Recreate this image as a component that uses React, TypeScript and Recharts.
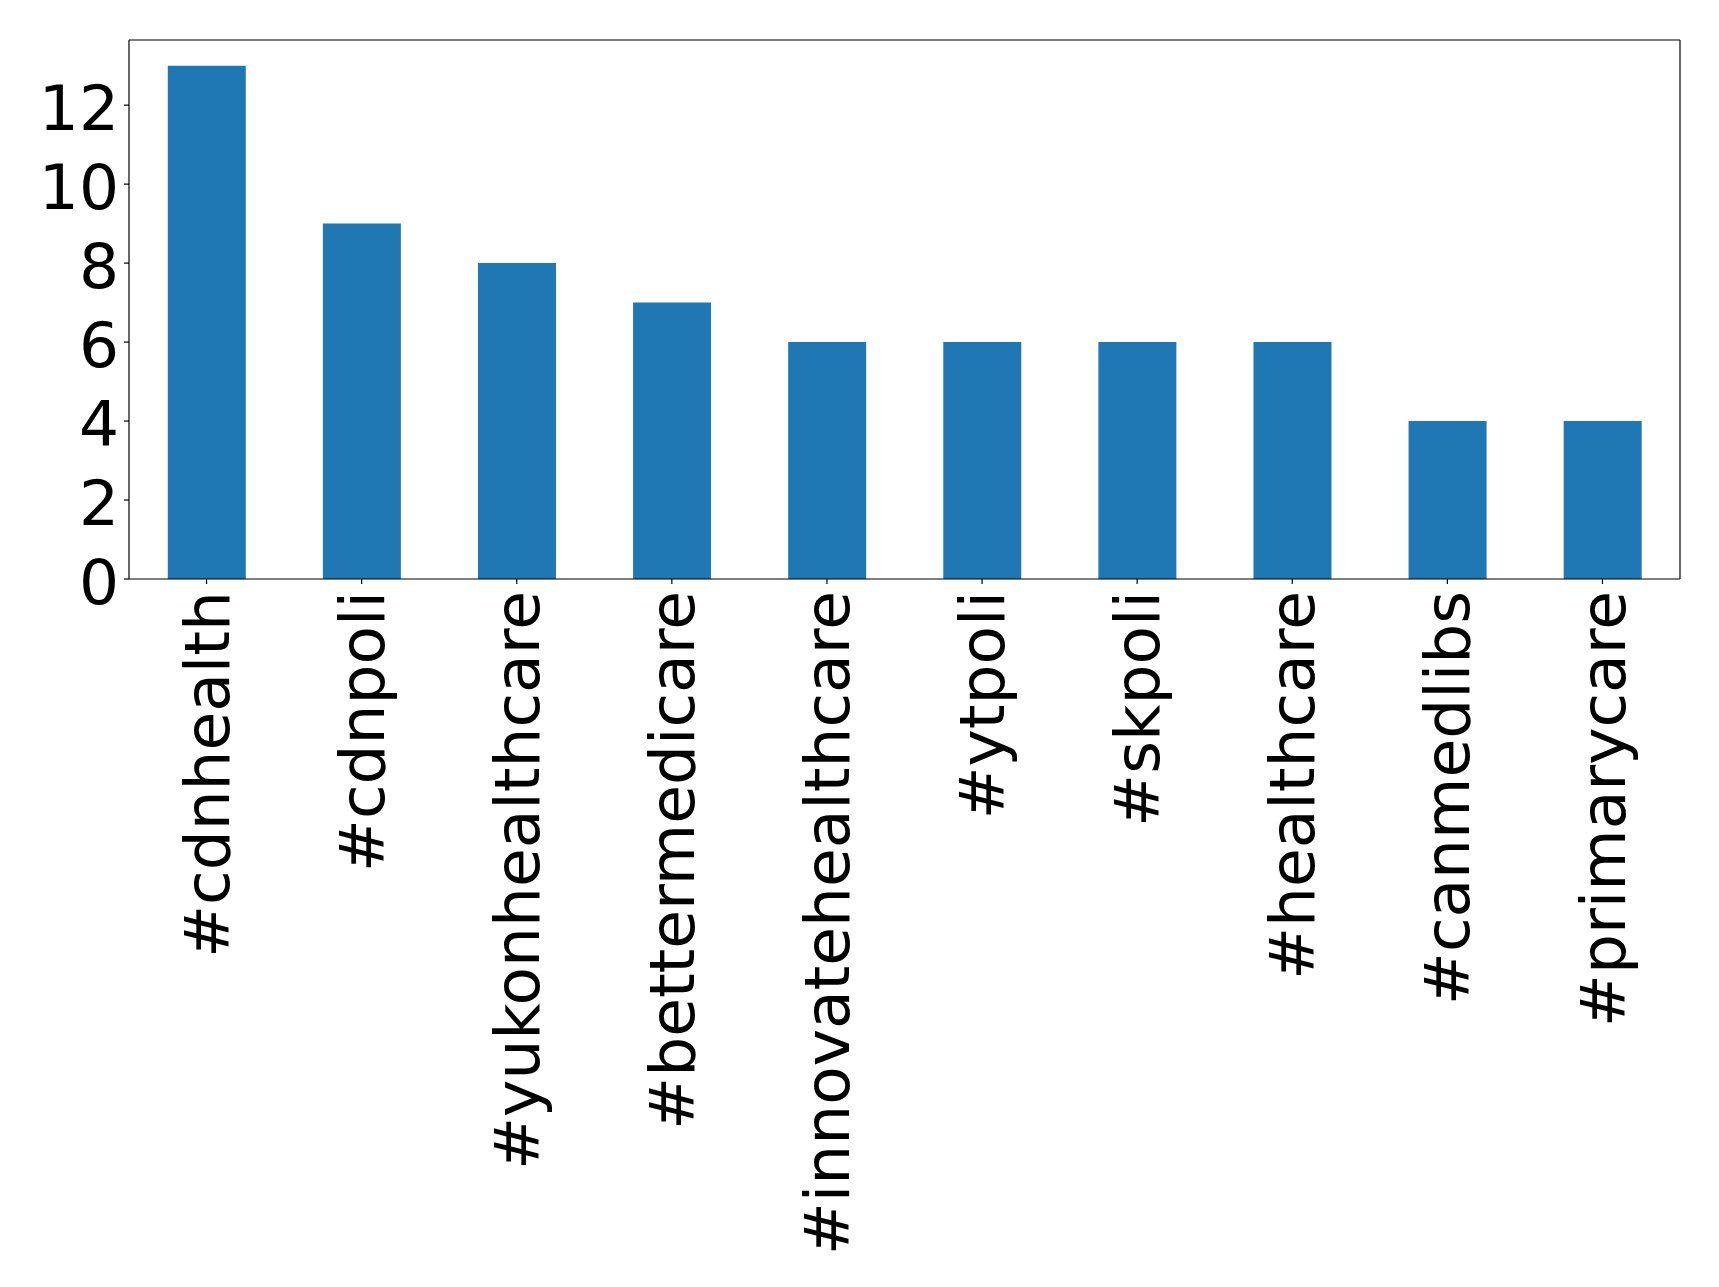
import { BarChart, Bar, XAxis, YAxis } from "recharts";

// ── Data ─────────────────────────────────────────────────────────────

const hashtags = [
  "#cdnhealth",
  "#cdnpoli",
  "#yukonhealthcare",
  "#bettermedicare",
  "#innovatehealthcare",
  "#ytpoli",
  "#skpoli",
  "#healthcare",
  "#canmedlibs",
  "#primarycare",
];

const counts = [13, 9, 8, 7, 6, 6, 6, 6, 4, 4];

const yTicks = [0, 2, 4, 6, 8, 10, 12];

const data = hashtags.map((tag, i) => ({ tag, count: counts[i] }));

// ── Style ────────────────────────────────────────────────────────────

const FONT = "'DejaVu Sans', Verdana, sans-serif";
const FONT_SIZE = 63;
const BAR_COLOR = "#1f77b4";
const AXIS = { stroke: "#000000", strokeWidth: 1.2 };

function XTick({ x, y, payload }: any) {
  return (
    <text
      transform={`translate(${x},${y + 2}) rotate(-90)`}
      textAnchor="end"
      dy="0.35em"
      fontFamily={FONT}
      fontSize={FONT_SIZE}
      fill="#000000"
    >
      {payload.value}
    </text>
  );
}

function YTick({ x, y, payload }: any) {
  return (
    <text
      x={x}
      y={y}
      textAnchor="end"
      dy="0.40em"
      fontFamily={FONT}
      fontSize={FONT_SIZE}
      fill="#000000"
    >
      {payload.value}
    </text>
  );
}

// ── Component ────────────────────────────────────────────────────────

export default function App() {
  return (
    <div style={{ position: "absolute", left: 0, top: 0, background: "#fff" }}>
      <BarChart
        width={1719}
        height={1287}
        data={data}
        margin={{ top: 39, right: 38, left: 0, bottom: 0 }}
        barCategoryGap="25%"
      >
        <XAxis
          dataKey="tag"
          height={708}
          interval={0}
          stroke="#000000"
          tick={<XTick />}
          tickSize={5}
          tickMargin={5}
          axisLine={AXIS}
          tickLine={AXIS}
        />
        <XAxis
          xAxisId="top"
          orientation="top"
          dataKey="tag"
          height={1}
          stroke="#000000"
          tick={false}
          tickLine={false}
          axisLine={AXIS}
        />
        <YAxis
          width={129}
          domain={[0, 13.65]}
          ticks={yTicks}
          stroke="#000000"
          tick={<YTick />}
          tickSize={5}
          tickMargin={5}
          axisLine={AXIS}
          tickLine={AXIS}
        />
        <YAxis
          yAxisId="right"
          orientation="right"
          width={1}
          domain={[0, 13.65]}
          stroke="#000000"
          tick={false}
          tickLine={false}
          axisLine={AXIS}
        />
        <Bar dataKey="count" fill={BAR_COLOR} isAnimationActive={false} />
      </BarChart>
    </div>
  );
}
